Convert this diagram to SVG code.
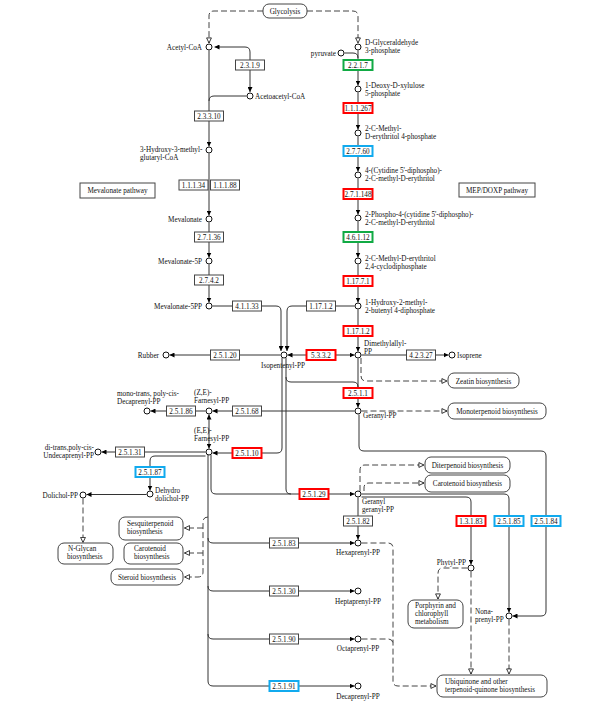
<svg xmlns="http://www.w3.org/2000/svg" width="600" height="709" viewBox="0 0 600 709">
<style>
text{font-family:"Liberation Serif","Times New Roman",serif;font-size:7.2px;fill:#111}
.m{text-anchor:middle}.e{text-anchor:end}
circle{fill:#fff;stroke:#111;stroke-width:1}
.bx{fill:#fff;stroke:#444;stroke-width:1}
.rd{fill:#fff;stroke:#f00;stroke-width:2}
.bl{fill:#fff;stroke:#11aaee;stroke-width:2}
.gr{fill:#fff;stroke:#11aa44;stroke-width:2}
.pw{fill:#fff;stroke:#444;stroke-width:1}
.ln{fill:none;stroke:#333;stroke-width:1}
.ds{fill:none;stroke:#444;stroke-width:1;stroke-dasharray:6 3}
</style>
<defs>
<marker id="f" viewBox="0 0 8 8" refX="8" refY="4" markerWidth="5" markerHeight="5" orient="auto-start-reverse" markerUnits="userSpaceOnUse"><path d="M0,0L8,4L0,8z" fill="#000"/></marker>
<marker id="h" viewBox="0 0 10 10" refX="9.5" refY="5" markerWidth="6" markerHeight="6" orient="auto" markerUnits="userSpaceOnUse"><path d="M1,1L9.5,5L1,9z" fill="#fff" stroke="#000" stroke-width="1.3"/></marker>
</defs>
<rect width="600" height="709" fill="#fff"/>

<g id="connectors">
<path class="ds" d="M263 11H214Q209 11 209 16V43" marker-end="url(#h)"/>
<path class="ds" d="M307 11H353Q358 11 358 16V43" marker-end="url(#h)"/>
<path class="ln" d="M214.5 47H245Q250 47 250 52V92" marker-start="url(#f)" marker-end="url(#f)"/>
<path class="ln" d="M246.5 96H214Q209 96 209 101"/>
<path class="ln" d="M209 50.5V146.5" marker-end="url(#f)"/>
<path class="ln" d="M209 153.5V215.5" marker-end="url(#f)"/>
<path class="ln" d="M209 222.5V257.5" marker-end="url(#f)"/>
<path class="ln" d="M209 264.5V302.5" marker-end="url(#f)"/>
<path class="ln" d="M212.5 306H276Q281 306 281 311V351" marker-end="url(#f)"/>
<path class="ln" d="M354.5 306H292Q287 306 287 311V351" marker-end="url(#f)"/>
<path class="ln" d="M344.5 53H353Q358 53 358 58"/>
<path class="ln" d="M358 50.5V85.5" marker-end="url(#f)"/>
<path class="ln" d="M358 92.5V129.5" marker-end="url(#f)"/>
<path class="ln" d="M358 136.5V171.5" marker-end="url(#f)"/>
<path class="ln" d="M358 178.5V214.5" marker-end="url(#f)"/>
<path class="ln" d="M358 221.5V257.5" marker-end="url(#f)"/>
<path class="ln" d="M358 264.5V302.5" marker-end="url(#f)"/>
<path class="ln" d="M358 309.5V351.5" marker-end="url(#f)"/>
<path class="ln" d="M287.5 355H354.5" marker-start="url(#f)" marker-end="url(#f)"/>
<path class="ln" d="M280.5 355H169.5" marker-end="url(#f)"/>
<path class="ln" d="M361.5 355H448.5" marker-end="url(#f)"/>
<path class="ds" d="M361 358V376Q361 381 366 381H447" marker-end="url(#h)"/>
<path class="ln" d="M358 358.5V407.5" marker-end="url(#f)"/>
<path class="ln" d="M286 358V489Q286 494 291 494"/>
<path class="ln" d="M286 377Q286 382 291 382H353Q358 382 358 387"/>
<path class="ln" d="M282 358V448Q282 453 277 453H212.5" marker-end="url(#f)"/>
<path class="ln" d="M354.5 411H212.5" marker-end="url(#f)"/>
<path class="ds" d="M361.5 411H447" marker-end="url(#h)"/>
<path class="ln" d="M359 414.5V446Q359 451 364 451H541Q546 451 546 456V611Q546 616 541 616H512.5" marker-end="url(#f)"/>
<path class="ln" d="M209 414.5V448.5" marker-start="url(#f)" marker-end="url(#f)"/>
<path class="ln" d="M205.5 411H150.5" marker-end="url(#f)"/>
<path class="ln" d="M205.5 452H101.5" marker-end="url(#f)"/>
<path class="ln" d="M205.5 456H155Q150 456 150 461V490.5" marker-end="url(#f)"/>
<path class="ln" d="M146.5 494.5H86.5" marker-end="url(#f)"/>
<path class="ds" d="M83 498.5V542.5" marker-end="url(#h)"/>
<path class="ln" d="M211 455V489Q211 494 216 494H354.5" marker-end="url(#f)"/>
<path class="ln" d="M208 455V681Q208 686 213 686H354.5" marker-end="url(#f)"/>
<path class="ln" d="M208 538Q208 543 213 543H354.5" marker-end="url(#f)"/>
<path class="ln" d="M208 586Q208 591 213 591H354.5" marker-end="url(#f)"/>
<path class="ln" d="M208 634Q208 639 213 639H354.5" marker-end="url(#f)"/>
<path class="ds" d="M208 517Q203 517 203 522V572Q203 577 198 577H184.5" marker-end="url(#h)"/>
<path class="ds" d="M203 528H184.5" marker-end="url(#h)"/>
<path class="ds" d="M203 553H184.5" marker-end="url(#h)"/>
<path class="ds" d="M360 491V470Q360 465 365 465H424" marker-end="url(#h)"/>
<path class="ds" d="M364 491V488Q364 483 369 483H424" marker-end="url(#h)"/>
<path class="ln" d="M358 497.5V539.5" marker-end="url(#f)"/>
<path class="ln" d="M361.5 494H504Q509 494 509 499V612.5" marker-end="url(#f)"/>
<path class="ln" d="M361.5 497H466Q471 497 471 502V564.5" marker-end="url(#f)"/>
<path class="ds" d="M467.5 568H443Q438 568 438 573V599" marker-end="url(#h)"/>
<path class="ds" d="M471 571.5V674" marker-end="url(#h)"/>
<path class="ds" d="M509 619.5V674" marker-end="url(#h)"/>
<path class="ds" d="M361.5 543H388Q393 543 393 548V681Q393 686 398 686H436" marker-end="url(#h)"/>
<path class="ds" d="M361.5 639H388Q393 639 393 644"/>
</g>

<g id="p-glycolysis"><rect class="pw" x="263" y="4" width="44" height="14" rx="6"/><text class="m" x="285" y="13.5">Glycolysis</text></g>
<g id="p-mevalonate"><rect class="pw" x="80" y="183" width="75" height="15"/><text class="m" x="117.5" y="193">Mevalonate pathway</text></g>
<g id="p-mep"><rect class="pw" x="459" y="183" width="76" height="14"/><text class="m" x="497" y="192.5">MEP/DOXP pathway</text></g>
<g id="p-zeatin"><rect class="pw" x="448" y="373" width="71" height="15" rx="6"/><text class="m" x="483.5" y="383.5">Zeatin biosynthesis</text></g>
<g id="p-monoterpenoid"><rect class="pw" x="448" y="403" width="98" height="16" rx="6"/><text class="m" x="497" y="413.5">Monoterpenoid biosynthesis</text></g>
<g id="p-diterpenoid"><rect class="pw" x="425" y="457" width="85" height="16" rx="6"/><text class="m" x="467.5" y="467.5">Diterpenoid biosynthesis</text></g>
<g id="p-carotenoid-r"><rect class="pw" x="425" y="475" width="85" height="17" rx="6"/><text class="m" x="467.5" y="486">Carotenoid biosynthesis</text></g>
<g id="p-sesquiterpenoid"><rect class="pw" x="119" y="517" width="64" height="23" rx="6"/><text x="127" y="526">Sesquiterpenoid</text><text x="127" y="534.1">biosynthesis</text></g>
<g id="p-carotenoid-l"><rect class="pw" x="124" y="543" width="59" height="21" rx="6"/><text x="134" y="551">Carotenoid</text><text x="134" y="559.1">biosynthesis</text></g>
<g id="p-steroid"><rect class="pw" x="111" y="569" width="72" height="16" rx="6"/><text class="m" x="147" y="579.5">Steroid biosynthesis</text></g>
<g id="p-nglycan"><rect class="pw" x="58" y="543" width="55" height="21" rx="6"/><text x="68" y="551">N-Glycan</text><text x="67" y="559.1">biosynthesis</text></g>
<g id="p-porphyrin"><rect class="pw" x="408" y="600" width="55" height="28" rx="6"/><text x="415" y="607.5">Porphyrin and</text><text x="415" y="615.6">chlorophyll</text><text x="415" y="623.7">metabolism</text></g>
<g id="p-ubiquinone"><rect class="pw" x="437" y="675" width="110" height="22" rx="6"/><text x="445" y="684">Ubiquinone and other</text><text x="445" y="692.1">terpenoid-quinone biosynthesis</text></g>

<g id="e-2.3.1.9"><rect class="bx" x="235.5" y="60" width="29" height="10"/><text class="m" x="250" y="67.6">2.3.1.9</text></g>
<g id="e-2.3.3.10"><rect class="bx" x="194.5" y="111" width="29" height="10"/><text class="m" x="209" y="118.6">2.3.3.10</text></g>
<g id="e-1.1.1.34"><rect class="bx" x="179" y="180" width="29" height="10"/><text class="m" x="193.5" y="187.6">1.1.1.34</text></g>
<g id="e-1.1.1.88"><rect class="bx" x="210.5" y="180" width="29" height="10"/><text class="m" x="225" y="187.6">1.1.1.88</text></g>
<g id="e-2.7.1.36"><rect class="bx" x="194.5" y="232" width="29" height="10"/><text class="m" x="209" y="239.6">2.7.1.36</text></g>
<g id="e-2.7.4.2"><rect class="bx" x="194.5" y="275" width="29" height="10"/><text class="m" x="209" y="282.6">2.7.4.2</text></g>
<g id="e-4.1.1.33"><rect class="bx" x="232.5" y="301" width="29" height="10"/><text class="m" x="247" y="308.6">4.1.1.33</text></g>
<g id="e-1.17.1.2a"><rect class="bx" x="306.5" y="301" width="29" height="10"/><text class="m" x="321" y="308.6">1.17.1.2</text></g>
<g id="e-2.5.1.20"><rect class="bx" x="210.5" y="350" width="29" height="10"/><text class="m" x="225" y="357.6">2.5.1.20</text></g>
<g id="e-5.3.3.2"><rect class="rd" x="306.5" y="350" width="29" height="10"/><text class="m" x="321" y="357.6">5.3.3.2</text></g>
<g id="e-4.2.3.27"><rect class="bx" x="406.5" y="350" width="29" height="10"/><text class="m" x="421" y="357.6">4.2.3.27</text></g>
<g id="e-2.2.1.7"><rect class="gr" x="343.5" y="60" width="29" height="10"/><text class="m" x="358" y="67.6">2.2.1.7</text></g>
<g id="e-1.1.1.267"><rect class="rd" x="343.5" y="103" width="29" height="10"/><text class="m" x="358" y="110.6">1.1.1.267</text></g>
<g id="e-2.7.7.60"><rect class="bl" x="343.5" y="146" width="29" height="10"/><text class="m" x="358" y="153.6">2.7.7.60</text></g>
<g id="e-2.7.1.148"><rect class="rd" x="343.5" y="189" width="29" height="10"/><text class="m" x="358" y="196.6">2.7.1.148</text></g>
<g id="e-4.6.1.12"><rect class="gr" x="343.5" y="232" width="29" height="10"/><text class="m" x="358" y="239.6">4.6.1.12</text></g>
<g id="e-1.17.7.1"><rect class="rd" x="343.5" y="276" width="29" height="10"/><text class="m" x="358" y="283.6">1.17.7.1</text></g>
<g id="e-1.17.1.2b"><rect class="rd" x="343.5" y="326" width="29" height="10"/><text class="m" x="358" y="333.6">1.17.1.2</text></g>
<g id="e-2.5.1.1"><rect class="rd" x="343.5" y="388" width="29" height="10"/><text class="m" x="358" y="395.6">2.5.1.1</text></g>
<g id="e-2.5.1.68"><rect class="bx" x="232.5" y="406" width="29" height="10"/><text class="m" x="247" y="413.6">2.5.1.68</text></g>
<g id="e-2.5.1.86"><rect class="bx" x="166.5" y="406" width="29" height="10"/><text class="m" x="181" y="413.6">2.5.1.86</text></g>
<g id="e-2.5.1.10"><rect class="rd" x="232.5" y="448" width="29" height="10"/><text class="m" x="247" y="455.6">2.5.1.10</text></g>
<g id="e-2.5.1.31"><rect class="bx" x="115.5" y="447" width="29" height="10"/><text class="m" x="130" y="454.6">2.5.1.31</text></g>
<g id="e-2.5.1.87"><rect class="bl" x="135.5" y="467" width="29" height="10"/><text class="m" x="150" y="474.6">2.5.1.87</text></g>
<g id="e-2.5.1.29"><rect class="rd" x="299.5" y="489" width="29" height="10"/><text class="m" x="314" y="496.6">2.5.1.29</text></g>
<g id="e-2.5.1.82"><rect class="bx" x="343.5" y="516" width="29" height="10"/><text class="m" x="358" y="523.6">2.5.1.82</text></g>
<g id="e-1.3.1.83"><rect class="rd" x="456.5" y="516" width="29" height="10"/><text class="m" x="471" y="523.6">1.3.1.83</text></g>
<g id="e-2.5.1.85"><rect class="bl" x="494.5" y="516" width="29" height="10"/><text class="m" x="509" y="523.6">2.5.1.85</text></g>
<g id="e-2.5.1.84"><rect class="bl" x="531.5" y="516" width="29" height="10"/><text class="m" x="546" y="523.6">2.5.1.84</text></g>
<g id="e-2.5.1.83"><rect class="bx" x="269.5" y="538" width="29" height="10"/><text class="m" x="284" y="545.6">2.5.1.83</text></g>
<g id="e-2.5.1.30"><rect class="bx" x="269.5" y="586" width="29" height="10"/><text class="m" x="284" y="593.6">2.5.1.30</text></g>
<g id="e-2.5.1.90"><rect class="bx" x="269.5" y="634" width="29" height="10"/><text class="m" x="284" y="641.6">2.5.1.90</text></g>
<g id="e-2.5.1.91"><rect class="bl" x="269.5" y="681" width="29" height="10"/><text class="m" x="284" y="688.6">2.5.1.91</text></g>

<g id="c-acetylcoa"><circle cx="209" cy="47" r="3"/><text class="e" x="202" y="49.6">Acetyl-CoA</text></g>
<g id="c-acetoacetylcoa"><circle cx="250" cy="96" r="3"/><text x="255" y="98.6">Acetoacetyl-CoA</text></g>
<g id="c-hmgcoa"><circle cx="209" cy="150" r="3"/><text x="140" y="151.6">3-Hydroxy-3-methyl-</text><text x="140" y="159.7">glutaryl-CoA</text></g>
<g id="c-mevalonate"><circle cx="209" cy="219" r="3"/><text class="e" x="202" y="221.6">Mevalonate</text></g>
<g id="c-mevalonate5p"><circle cx="209" cy="261" r="3"/><text class="e" x="202" y="263.6">Mevalonate-5P</text></g>
<g id="c-mevalonate5pp"><circle cx="209" cy="306" r="3"/><text class="e" x="202" y="308.6">Mevalonate-5PP</text></g>
<g id="c-ipp"><circle cx="284" cy="355" r="3"/><text class="m" x="283" y="368">Isopentenyl-PP</text></g>
<g id="c-rubber"><circle cx="166" cy="355" r="3"/><text class="e" x="159" y="357.6">Rubber</text></g>
<g id="c-dmapp"><circle cx="358" cy="355" r="3"/><text x="364" y="345.5">Dimethylallyl-</text><text x="364" y="353.6">PP</text></g>
<g id="c-isoprene"><circle cx="452" cy="355" r="3"/><text x="457" y="357.6">Isoprene</text></g>
<g id="c-gap"><circle cx="358" cy="47" r="3"/><text x="365" y="44.6">D-Glyceraldehyde</text><text x="365" y="52.7">3-phosphate</text></g>
<g id="c-pyruvate"><circle cx="341" cy="53" r="3"/><text class="e" x="336" y="55.6">pyruvate</text></g>
<g id="c-dxp"><circle cx="358" cy="89" r="3"/><text x="365" y="87.6">1-Deoxy-D-xylulose</text><text x="365" y="95.7">5-phosphate</text></g>
<g id="c-mep"><circle cx="358" cy="133" r="3"/><text x="365" y="130.6">2-C-Methyl-</text><text x="365" y="138.7">D-erythritol 4-phosphate</text></g>
<g id="c-cdpme"><circle cx="358" cy="175" r="3"/><text x="365" y="172.6">4-(Cytidine 5'-diphospho)-</text><text x="365" y="180.7">2-C-methyl-D-erythritol</text></g>
<g id="c-cdpmep"><circle cx="358" cy="218" r="3"/><text x="365" y="216.6">2-Phospho-4-(cytidine 5'-diphospho)-</text><text x="365" y="224.7">2-C-methyl-D-erythritol</text></g>
<g id="c-mecpp"><circle cx="358" cy="261" r="3"/><text x="365" y="260.6">2-C-Methyl-D-erythritol</text><text x="365" y="268.7">2,4-cyclodiphosphate</text></g>
<g id="c-hmbpp"><circle cx="358" cy="306" r="3"/><text x="365" y="304.6">1-Hydroxy-2-methyl-</text><text x="365" y="312.7">2-butenyl 4-diphosphate</text></g>
<g id="c-gpp"><circle cx="358" cy="411" r="3"/><text x="363" y="418">Geranyl-PP</text></g>
<g id="c-zefpp"><circle cx="209" cy="411" r="3"/><text x="194" y="395">(Z,E)-</text><text x="194" y="403.1">Farnesyl-PP</text></g>
<g id="c-eefpp"><circle cx="209" cy="452" r="3"/><text x="194" y="433">(E,E)-</text><text x="194" y="441.1">Farnesyl-PP</text></g>
<g id="c-decaprenylcis"><circle cx="147" cy="411" r="3"/><text x="117" y="395.5">mono-trans, poly-cis-</text><text x="117" y="403.6">Decaprenyl-PP</text></g>
<g id="c-undecaprenyl"><circle cx="98" cy="452" r="3"/><text class="e" x="94" y="450">di-trans,poly-cis-</text><text class="e" x="94" y="458.1">Undecaprenyl-PP</text></g>
<g id="c-dehydrodolichol"><circle cx="150" cy="494" r="3"/><text x="155" y="493">Dehydro</text><text x="155" y="501.1">dolichol-PP</text></g>
<g id="c-dolichol"><circle cx="83" cy="495" r="3"/><text class="e" x="78" y="497.6">Dolichol-PP</text></g>
<g id="c-ggpp"><circle cx="358" cy="494" r="3"/><text x="362" y="504">Geranyl</text><text x="362" y="512.1">geranyl-PP</text></g>
<g id="c-hexaprenyl"><circle cx="358" cy="543" r="3"/><text class="m" x="358" y="555">Hexaprenyl-PP</text></g>
<g id="c-heptaprenyl"><circle cx="358" cy="591" r="3"/><text class="m" x="358" y="603.5">Heptaprenyl-PP</text></g>
<g id="c-octaprenyl"><circle cx="358" cy="639" r="3"/><text class="m" x="358" y="651">Octaprenyl-PP</text></g>
<g id="c-decaprenyl"><circle cx="358" cy="686" r="3"/><text class="m" x="358" y="699">Decaprenyl-PP</text></g>
<g id="c-phytyl"><circle cx="471" cy="568" r="3"/><text class="e" x="466" y="565">Phytyl-PP</text></g>
<g id="c-nonaprenyl"><circle cx="509" cy="616" r="3"/><text x="475" y="614">Nona-</text><text x="475" y="622.1">prenyl-PP</text></g>
</svg>
